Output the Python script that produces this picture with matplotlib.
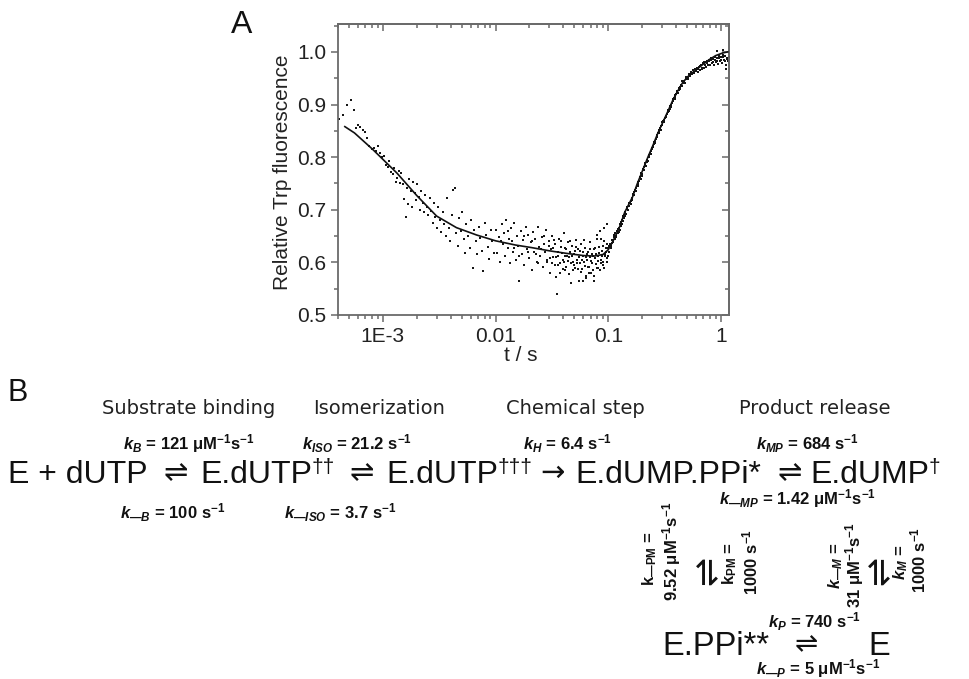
import numpy as np
import matplotlib.pyplot as plt
from matplotlib.ticker import FixedLocator, MultipleLocator, LogLocator, NullFormatter

plt.rcParams['font.family'] = ['Liberation Sans', 'DejaVu Sans']
plt.rcParams['mathtext.fontset'] = 'custom'
plt.rcParams['mathtext.rm'] = 'Liberation Sans:bold'
plt.rcParams['mathtext.it'] = 'Liberation Sans:italic:bold'
plt.rcParams['mathtext.bf'] = 'Liberation Sans:bold'

# stopped-flow trace (t in s, relative Trp fluorescence)
t_early = [4.1e-4, 4.4e-4, 4.8e-4, 5.2e-4, 5.5e-4, 5.8e-4, 6.0e-4, 6.3e-4, 6.6e-4,
           6.9e-4, 7.2e-4, 7.6e-4, 8.0e-4, 8.3e-4, 8.7e-4, 9.0e-4, 9.4e-4, 9.8e-4]
f_early = [0.872, 0.880, 0.900, 0.908, 0.889, 0.856, 0.861, 0.858, 0.851,
           0.848, 0.836, 0.822, 0.815, 0.818, 0.812, 0.822, 0.808, 0.800]

t_lag = [1.02e-3, 1.06e-3, 1.10e-3, 1.14e-3, 1.18e-3, 1.22e-3, 1.26e-3, 1.30e-3, 1.34e-3,
         1.38e-3, 1.42e-3, 1.46e-3, 1.50e-3, 1.55e-3, 1.60e-3, 1.64e-3, 1.68e-3, 1.72e-3,
         1.77e-3, 1.82e-3, 1.87e-3, 1.92e-3, 1.97e-3, 2.02e-3, 2.08e-3, 2.14e-3, 2.20e-3,
         2.26e-3, 2.32e-3, 2.39e-3, 2.46e-3, 2.53e-3, 2.60e-3, 2.68e-3, 2.76e-3, 2.84e-3,
         2.92e-3, 3.00e-3, 3.10e-3, 3.20e-3, 3.30e-3, 3.40e-3, 3.50e-3, 3.62e-3, 3.74e-3,
         3.86e-3, 3.98e-3, 4.10e-3, 4.22e-3, 4.34e-3, 4.46e-3, 4.60e-3, 4.75e-3, 4.90e-3,
         5.05e-3, 5.20e-3, 5.36e-3, 5.52e-3, 5.70e-3, 5.88e-3, 6.06e-3, 6.25e-3, 6.45e-3,
         6.65e-3, 6.86e-3, 7.08e-3, 7.30e-3, 7.53e-3, 7.77e-3, 8.02e-3, 8.27e-3, 8.53e-3,
         8.80e-3, 9.08e-3, 9.37e-3, 9.67e-3]
f_lag = [0.803, 0.785, 0.781, 0.792, 0.772, 0.768, 0.779, 0.752, 0.760,
         0.774, 0.750, 0.770, 0.748, 0.720, 0.686, 0.742, 0.710, 0.758,
         0.735, 0.705, 0.752, 0.731, 0.718, 0.748, 0.725, 0.700, 0.736,
         0.712, 0.695, 0.728, 0.705, 0.690, 0.722, 0.698, 0.675, 0.712,
         0.686, 0.665, 0.705, 0.680, 0.658, 0.695, 0.672, 0.650, 0.722,
         0.665, 0.640, 0.690, 0.738, 0.742, 0.655, 0.632, 0.685, 0.660,
         0.695, 0.645, 0.618, 0.672, 0.650, 0.628, 0.680, 0.590, 0.662,
         0.640, 0.615, 0.668, 0.646, 0.622, 0.583, 0.675, 0.652, 0.630,
         0.606, 0.662, 0.640, 0.618]

t_min = [0.0101, 0.0104, 0.0107, 0.0110, 0.0113, 0.0116, 0.0119, 0.0122, 0.0125, 0.0128,
         0.0131, 0.0134, 0.0137, 0.0140, 0.0143, 0.0147, 0.0151, 0.0155, 0.0159, 0.0163,
         0.0167, 0.0171, 0.0175, 0.0180, 0.0185, 0.0190, 0.0195, 0.0200, 0.0205, 0.0210,
         0.0215, 0.0220, 0.0226, 0.0232, 0.0238, 0.0244, 0.0250, 0.0256, 0.0262, 0.0268,
         0.0275, 0.0282, 0.0289, 0.0296, 0.0303, 0.0310, 0.0318, 0.0326, 0.0334, 0.0342,
         0.0350, 0.0358, 0.0366, 0.0375, 0.0384, 0.0393, 0.0402, 0.0411, 0.0420, 0.0430,
         0.0440, 0.0450, 0.0460, 0.0470, 0.0480, 0.0490, 0.0500, 0.0511, 0.0522, 0.0533,
         0.0544, 0.0555, 0.0566, 0.0578, 0.0590, 0.0602, 0.0614, 0.0626, 0.0638, 0.0651,
         0.0664, 0.0677, 0.0690, 0.0703, 0.0717, 0.0731, 0.0745, 0.0759, 0.0774, 0.0789,
         0.0804, 0.0819, 0.0835, 0.0851, 0.0867, 0.0883, 0.0900, 0.0917, 0.0934, 0.0951,
         0.0968, 0.0985,
         0.0305, 0.0322, 0.0338, 0.0355, 0.0370, 0.0388, 0.0405, 0.0425, 0.0445, 0.0465,
         0.0485, 0.0505, 0.0527, 0.0550, 0.0572, 0.0596, 0.0620, 0.0645, 0.0670, 0.0696,
         0.0724, 0.0752, 0.0781, 0.0811, 0.0843, 0.0875, 0.0908, 0.0942, 0.0976,
         0.0412, 0.0436, 0.0458, 0.0476, 0.0496, 0.0516, 0.0538, 0.0560, 0.0584, 0.0608,
         0.0632, 0.0657, 0.0683, 0.0710, 0.0738, 0.0766, 0.0796, 0.0826, 0.0858, 0.0890,
         0.0925, 0.0960, 0.0993, 0.0318, 0.0330, 0.0347, 0.0362, 0.0380, 0.0398, 0.0416,
         0.0254, 0.0268, 0.0284, 0.0300, 0.0228, 0.0240, 0.0212, 0.0196, 0.0178, 0.0160,
         0.0145, 0.0128, 0.0112, 0.0802, 0.0915, 0.0985, 0.0870, 0.0595, 0.0748, 0.0640]
f_min = [0.662, 0.618, 0.648, 0.600, 0.672, 0.635, 0.655, 0.612, 0.680, 0.628,
         0.645, 0.598, 0.665, 0.640, 0.620, 0.675, 0.605, 0.650, 0.632, 0.565,
         0.660, 0.615, 0.642, 0.595, 0.668, 0.625, 0.652, 0.608, 0.638, 0.585,
         0.658, 0.620, 0.645, 0.600, 0.668, 0.630, 0.612, 0.648, 0.592, 0.635,
         0.620, 0.662, 0.605, 0.640, 0.580, 0.625, 0.650, 0.610, 0.635, 0.572,
         0.540, 0.620, 0.645, 0.598, 0.630, 0.605, 0.655, 0.585, 0.625, 0.612,
         0.638, 0.578, 0.620, 0.560, 0.632, 0.600, 0.615, 0.590, 0.642, 0.605,
         0.625, 0.565, 0.598, 0.635, 0.588, 0.612, 0.600, 0.628, 0.570, 0.605,
         0.620, 0.592, 0.638, 0.602, 0.615, 0.585, 0.625, 0.608, 0.596, 0.645,
         0.612, 0.590, 0.630, 0.660, 0.605, 0.622, 0.595, 0.640, 0.612, 0.628,
         0.600, 0.635,
         0.608, 0.628, 0.595, 0.612, 0.580, 0.618, 0.600, 0.592, 0.610, 0.598,
         0.585, 0.622, 0.598, 0.610, 0.582, 0.620, 0.594, 0.615, 0.580, 0.610,
         0.598, 0.575, 0.615, 0.602, 0.585, 0.612, 0.600, 0.615, 0.608,
         0.628, 0.603, 0.640, 0.612, 0.595, 0.630, 0.588, 0.622, 0.604, 0.642,
         0.610, 0.592, 0.625, 0.580, 0.612, 0.628, 0.590, 0.618, 0.598, 0.632,
         0.590, 0.620, 0.612, 0.598, 0.642, 0.610, 0.595, 0.640, 0.588, 0.612,
         0.625, 0.650, 0.600, 0.632, 0.615, 0.598, 0.640, 0.620, 0.650, 0.612,
         0.628, 0.660, 0.640, 0.652, 0.665, 0.672, 0.645, 0.565, 0.565, 0.575]

t_rise = [0.100, 0.102, 0.104, 0.106, 0.108, 0.110, 0.112, 0.114, 0.116, 0.118,
          0.120, 0.122, 0.124, 0.126, 0.128, 0.130, 0.132, 0.134, 0.136, 0.138,
          0.140, 0.143, 0.146, 0.149, 0.152, 0.155, 0.158, 0.161, 0.164, 0.167,
          0.170, 0.173, 0.176, 0.179, 0.182, 0.185, 0.188, 0.191, 0.194, 0.197,
          0.200, 0.204, 0.208, 0.212, 0.216, 0.220, 0.224, 0.228, 0.232, 0.236,
          0.240, 0.244, 0.248, 0.252, 0.256, 0.260, 0.265, 0.270, 0.275, 0.280,
          0.285, 0.290, 0.295, 0.300, 0.306, 0.312, 0.318, 0.324, 0.330, 0.336,
          0.342, 0.348, 0.354, 0.360, 0.367, 0.374, 0.381, 0.388, 0.395, 0.402,
          0.410, 0.418, 0.426, 0.434, 0.442, 0.450, 0.459, 0.468, 0.477, 0.486,
          0.495, 0.505, 0.515, 0.525, 0.535, 0.546, 0.557, 0.568, 0.580, 0.592, 0.604,
          0.101, 0.105, 0.109, 0.113, 0.117, 0.121, 0.125, 0.129, 0.133, 0.137,
          0.142, 0.147, 0.153, 0.159, 0.165, 0.171, 0.177, 0.183, 0.190, 0.198,
          0.206, 0.214, 0.222, 0.230, 0.238, 0.246, 0.254, 0.262, 0.272, 0.282,
          0.292, 0.303, 0.315, 0.327, 0.339, 0.351, 0.364, 0.378, 0.392, 0.406,
          0.422, 0.438, 0.455, 0.472, 0.490, 0.510, 0.530, 0.552, 0.574, 0.598]
f_rise = [0.628, 0.620, 0.635, 0.632, 0.642, 0.638, 0.648, 0.645, 0.655, 0.650,
          0.660, 0.655, 0.665, 0.662, 0.672, 0.670, 0.680, 0.678, 0.688, 0.685,
          0.695, 0.692, 0.702, 0.700, 0.708, 0.712, 0.710, 0.722, 0.718, 0.730,
          0.728, 0.738, 0.735, 0.745, 0.748, 0.752, 0.755, 0.760, 0.758, 0.770,
          0.768, 0.778, 0.776, 0.785, 0.783, 0.795, 0.792, 0.802, 0.800, 0.808,
          0.812, 0.815, 0.820, 0.822, 0.828, 0.830, 0.835, 0.838, 0.846, 0.845,
          0.852, 0.855, 0.860, 0.862, 0.868, 0.866, 0.875, 0.878, 0.882, 0.885,
          0.890, 0.888, 0.898, 0.896, 0.903, 0.906, 0.912, 0.910, 0.918, 0.920,
          0.925, 0.922, 0.932, 0.930, 0.938, 0.936, 0.942, 0.945, 0.940, 0.950,
          0.948, 0.953, 0.950, 0.958, 0.955, 0.962, 0.958, 0.965, 0.960, 0.968, 0.963,
          0.632, 0.628, 0.636, 0.652, 0.648, 0.664, 0.658, 0.676, 0.673, 0.690,
          0.688, 0.705, 0.712, 0.716, 0.728, 0.733, 0.742, 0.745, 0.762, 0.764,
          0.782, 0.788, 0.790, 0.805, 0.806, 0.818, 0.825, 0.826, 0.842, 0.850,
          0.852, 0.866, 0.870, 0.876, 0.890, 0.892, 0.900, 0.910, 0.914, 0.924,
          0.928, 0.934, 0.944, 0.940, 0.952, 0.948, 0.958, 0.960, 0.962, 0.966]

t_end = [0.615, 0.627, 0.640, 0.653, 0.666, 0.680, 0.694, 0.708, 0.722, 0.737,
         0.752, 0.767, 0.783, 0.799, 0.815, 0.832, 0.849, 0.866, 0.884, 0.902,
         0.920, 0.939, 0.958, 0.978, 0.998, 1.018, 1.039, 1.060, 1.082, 1.104,
         1.126, 1.149, 1.170, 0.930, 1.050, 1.120,
         0.620, 0.646, 0.673, 0.701, 0.730, 0.760, 0.791, 0.823, 0.857, 0.893,
         0.930, 0.968, 1.008, 1.050, 1.093, 1.137]
f_end = [0.970, 0.962, 0.972, 0.966, 0.975, 0.968, 0.978, 0.970, 0.980, 0.972,
         0.982, 0.975, 0.985, 0.976, 0.988, 0.978, 0.986, 0.975, 0.990, 0.980,
         0.988, 0.977, 0.992, 0.982, 0.990, 0.978, 0.995, 0.984, 0.992, 0.975,
         0.988, 0.982, 0.990, 1.002, 1.004, 0.968,
         0.968, 0.974, 0.970, 0.980, 0.975, 0.978, 0.982, 0.985, 0.980, 0.985,
         0.982, 0.988, 0.985, 0.990, 0.982, 0.986]

# fitted curve
fit_t = [4.6e-4, 5.6e-4, 8.1e-4, 1.33e-3, 2.0e-3, 3.0e-3, 4.5e-3, 6.8e-3, 0.010, 0.015,
         0.021, 0.030, 0.043, 0.060, 0.075, 0.090, 0.100, 0.110, 0.125, 0.140, 0.165,
         0.180, 0.203, 0.225, 0.249, 0.275, 0.305, 0.340, 0.374, 0.415, 0.459, 0.520,
         0.611, 0.700, 0.796, 0.900, 1.040, 1.150]
fit_f = [0.858, 0.846, 0.815, 0.770, 0.727, 0.688, 0.666, 0.652, 0.641, 0.633,
         0.628, 0.622, 0.617, 0.613, 0.612, 0.615, 0.624, 0.640, 0.665, 0.695, 0.725,
         0.748, 0.776, 0.800, 0.822, 0.845, 0.866, 0.888, 0.908, 0.926, 0.942, 0.955,
         0.967, 0.977, 0.986, 0.993, 0.998, 1.000]

x_ticks = [1e-3, 1e-2, 1e-1, 1]
x_ticklabels = ['1E-3', '0.01', '0.1', '1']
y_ticks = [0.5, 0.6, 0.7, 0.8, 0.9, 1.0]

W, H = 970, 679
fig = plt.figure(figsize=(W / 100, H / 100), dpi=100)

# ---- panel A ----
ax = fig.add_axes([338 / W, 1 - 315 / H, 391 / W, 291 / H])
t_all = np.concatenate([t_early, t_lag, t_min, t_rise, t_end])
f_all = np.concatenate([f_early, f_lag, f_min, f_rise, f_end])
ax.scatter(t_all, f_all, s=3.8, marker='s', color='#151515', linewidths=0, zorder=2)
ax.plot(fit_t, fit_f, color='#111111', lw=1.2, zorder=3)

ax.set_xscale('log')
ax.set_xlim(4e-4, 1.18)
ax.set_ylim(0.5, 1.053)
ax.xaxis.set_major_locator(FixedLocator(x_ticks))
ax.set_xticklabels(x_ticklabels)
ax.xaxis.set_minor_locator(LogLocator(subs=np.arange(2, 10)))
ax.xaxis.set_minor_formatter(NullFormatter())
ax.set_yticks(y_ticks)
ax.set_yticklabels([f'{v:.1f}' for v in y_ticks])
ax.yaxis.set_minor_locator(MultipleLocator(0.05))

edge = '#6a6a6a'
for sp in ax.spines.values():
    sp.set_color(edge)
    sp.set_linewidth(1.3)
ax.tick_params(which='both', direction='out', color=edge, width=1.1,
               labelsize=15, labelcolor='#222222', top=False, right=False)
ax.tick_params(which='major', length=5)
ax.tick_params(which='minor', length=3)

# inward ticks on top and right, no labels
secx = ax.secondary_xaxis('top')
secx.xaxis.set_major_locator(FixedLocator(x_ticks))
secx.xaxis.set_minor_locator(LogLocator(subs=np.arange(2, 10)))
secx.xaxis.set_major_formatter(NullFormatter())
secx.xaxis.set_minor_formatter(NullFormatter())
secx.tick_params(which='both', direction='in', color=edge, width=1.1)
secx.tick_params(which='major', length=5)
secx.tick_params(which='minor', length=3)
secx.spines['top'].set_color(edge)
secx.spines['top'].set_linewidth(1.3)
secy = ax.secondary_yaxis('right')
secy.set_yticks(y_ticks)
secy.yaxis.set_minor_locator(MultipleLocator(0.05))
secy.yaxis.set_major_formatter(NullFormatter())
secy.tick_params(which='both', direction='in', color=edge, width=1.1)
secy.tick_params(which='major', length=5)
secy.tick_params(which='minor', length=3)
secy.spines['right'].set_color(edge)
secy.spines['right'].set_linewidth(1.3)

ax.set_ylabel('Relative Trp fluorescence', fontsize=15, color='#222222')
ax.yaxis.set_label_coords(-0.118, 0.49)
ax.set_xlabel('t / s', fontsize=15, color='#222222')
ax.xaxis.set_label_coords(0.468, -0.105)

# ---- overlay in pixel coordinates for the panel letters and scheme ----
ov = fig.add_axes([0, 0, 1, 1])
ov.set_xlim(0, W)
ov.set_ylim(H, 0)
ov.axis('off')
ov.patch.set_visible(False)

ink = '#111111'
ov.text(242, 25, 'A', fontsize=23, ha='center', va='center', color=ink)
ov.text(18, 393, 'B', fontsize=22, ha='center', va='center', color=ink)

head = dict(fontsize=14, family='DejaVu Sans', color='#222222', ha='center', va='center')
ov.text(189, 409, 'Substrate binding', **head)
ov.text(379, 409, 'Isomerization', **head)
ov.text(575, 409, 'Chemical step', **head)
ov.text(815, 409, 'Product release', **head)

kl = dict(fontsize=12, fontweight='bold', color=ink, ha='center', va='center')
ov.text(189, 444, r'$k_{B}$ = 121 μM$^{-1}$s$^{-1}$', **kl)
ov.text(357, 444, r'$k_{ISO}$ = 21.2 s$^{-1}$', **kl)
ov.text(568, 444, r'$k_{H}$ = 6.4 s$^{-1}$', **kl)
ov.text(807, 444, r'$k_{MP}$ = 684 s$^{-1}$', **kl)
ov.text(173, 513, r'$k_{—B}$ = 100 s$^{-1}$', **kl)
ov.text(340, 513, r'$k_{—ISO}$ = 3.7 s$^{-1}$', **kl)
ov.text(797, 499, r'$k_{—MP}$ = 1.42 μM$^{-1}$s$^{-1}$', **kl)
ov.text(815, 622, r'$k_{P}$ = 740 s$^{-1}$', **kl)
ov.text(818, 669, r'$k_{—P}$ = 5 μM$^{-1}$s$^{-1}$', **kl)

# main reaction line
base = 483
main = dict(fontsize=23, color=ink, va='baseline')
arrow = dict(fontsize=21, color=ink, ha='center', va='baseline', family=['DejaVu Sans'])
dag = dict(fontsize=15, color=ink, ha='left', va='top')
ov.text(8, base, 'E + dUTP', ha='left', **main)
ov.text(176, base - 2, '⇌', **arrow)
s1 = ov.text(200, base, 'E.dUTP', ha='left', **main)
ov.annotate('††', xy=(1.0, 1.08), xycoords=s1, **dag)
ov.text(362, base - 2, '⇌', **arrow)
s2 = ov.text(386, base, 'E.dUTP', ha='left', **main)
ov.annotate('†††', xy=(1.0, 1.08), xycoords=s2, **dag)
ov.text(553, base - 2, '→', **arrow)
ov.text(575, base, 'E.dUMP.PPi*', ha='left', **main)
ov.text(790, base - 2, '⇌', **arrow)
s3 = ov.text(810, base, 'E.dUMP', ha='left', **main)
ov.annotate('†', xy=(1.0, 1.08), xycoords=s3, **dag)

# vertical equilibria
vl = dict(fontsize=12, fontweight='bold', color=ink, ha='center', va='center', rotation=90)
ov.text(650, 559, r'k$_{\mathrm{—PM}}$ =', **vl)
ov.text(672, 551, r'9.52 μM$^{-1}$s$^{-1}$', **vl)
ov.text(707, 570, '⇌', fontsize=25, color=ink, ha='center', va='center', rotation=90,
        family=['DejaVu Sans'])
ov.text(730, 563, r'k$_{\mathrm{PM}}$ =', **vl)
ov.text(750, 562, r'1000 s$^{-1}$', **vl)
ov.text(836, 566, r'$k_{—M}$ =', **vl)
ov.text(855, 565, r'31 μM$^{-1}$s$^{-1}$', **vl)
ov.text(879, 570, '⇌', fontsize=25, color=ink, ha='center', va='center', rotation=90,
        family=['DejaVu Sans'])
ov.text(901, 562, r'$k_{M}$ =', **vl)
ov.text(918, 560, r'1000 s$^{-1}$', **vl)

# bottom line
ov.text(662, 655, 'E.PPi**', ha='left', fontsize=23.5, color=ink, va='baseline')
ov.text(806, 652, '⇌', fontsize=20, color=ink, ha='center', va='baseline',
        family=['DejaVu Sans'])
ov.text(868, 655, 'E', ha='left', fontsize=23.5, color=ink, va='baseline')

fig.savefig('out.png', dpi=100)
